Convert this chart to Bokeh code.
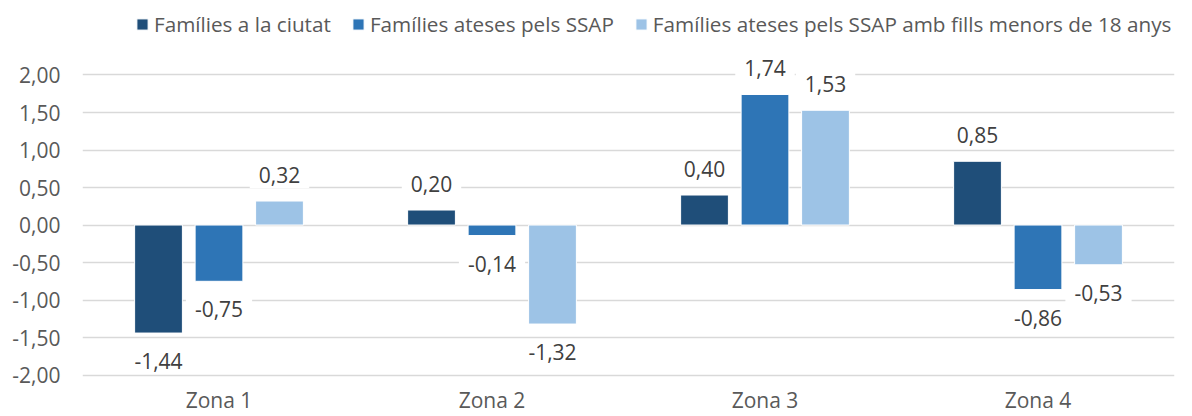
from bokeh.plotting import figure
from bokeh.models import FactorRange, Range1d, FixedTicker, ColumnDataSource, Legend, LegendItem
from bokeh.transform import dodge
from bokeh.core.properties import value
from bokeh.embed import file_html
from bokeh.resources import INLINE

zonas = ["Zona 1", "Zona 2", "Zona 3", "Zona 4"]
series_names = ["Famílies a la ciutat", "Famílies ateses pels SSAP",
                "Famílies ateses pels SSAP amb fills menors de 18 anys"]
ciutat = [-1.44, 0.20, 0.40, 0.85]
ssap = [-0.75, -0.14, 1.74, -0.86]
ssap_menors = [0.32, -1.32, 1.53, -0.53]
y_ticks = [-2.0, -1.5, -1.0, -0.5, 0.0, 0.5, 1.0, 1.5, 2.0]
y_tick_labels = ["-2,00", "-1,50", "-1,00", "-0,50", "0,00", "0,50", "1,00", "1,50", "2,00"]

colors = ["#1F4E79", "#2E75B6", "#9DC3E6"]
offsets = [-0.2216, 0.0, 0.2216]
FONT = "Open Sans"
FS = "21px"

p = figure(x_range=FactorRange(*zonas), y_range=Range1d(-2.099, 2.993),
           width=1192, height=416, output_backend="svg", toolbar_location=None,
           min_border_left=82, min_border_right=18, min_border_top=0, min_border_bottom=32)
p.outline_line_color = None
p.background_fill_color = "white"
p.border_fill_color = "white"

p.xgrid.grid_line_color = None
p.ygrid.grid_line_color = "#D9D9D9"
p.ygrid.grid_line_width = 1.5
p.yaxis.ticker = FixedTicker(ticks=y_ticks)
p.yaxis.major_label_overrides = {t: l for t, l in zip(y_ticks, y_tick_labels)}
for ax in (p.xaxis[0], p.yaxis[0]):
    ax.axis_line_color = None
    ax.major_tick_line_color = None
    ax.minor_tick_line_color = None
    ax.major_tick_out = 0
    ax.major_tick_in = 0
    ax.minor_tick_out = 0
    ax.major_label_text_font = FONT
    ax.major_label_text_font_size = FS
    ax.major_label_text_color = "#595959"
p.yaxis.major_label_standoff = 22
p.xaxis.major_label_standoff = 3

renderers = []
for vals, col, off, name in zip([ciutat, ssap, ssap_menors], colors, offsets, series_names):
    src = ColumnDataSource(dict(
        zona=zonas, val=vals,
        txt=[f"{v:.2f}".replace(".", ",") for v in vals],
        yoff=[-26 if v >= 0 else 28 for v in vals],
    ))
    r = p.vbar(x=dodge("zona", off, range=p.x_range), top="val", bottom=0, width=0.175,
               source=src, fill_color=col, line_color="white", line_width=1)
    renderers.append((name, r))
    p.text(x=dodge("zona", off, range=p.x_range), y="val", text="txt", y_offset="yoff",
           source=src, text_align="center", text_baseline="middle",
           text_font=value(FONT), text_font_size=FS, text_color="#404040",
           background_fill_color="white",
           padding=dict(left=9, right=9, top=5, bottom=5))

legend = Legend(items=[LegendItem(label=n, renderers=[r]) for n, r in renderers],
                orientation="horizontal", location=(53, 344))
legend.glyph_width = 14
legend.glyph_height = 14
legend.label_standoff = 5
legend.spacing = 20
legend.padding = 0
legend.margin = 0
legend.border_line_color = None
legend.background_fill_alpha = 0
legend.label_text_font = FONT
legend.label_text_font_size = "20.7px"
legend.label_text_color = "#595959"
p.add_layout(legend)

open("out.html", "w").write(file_html(p, INLINE))
